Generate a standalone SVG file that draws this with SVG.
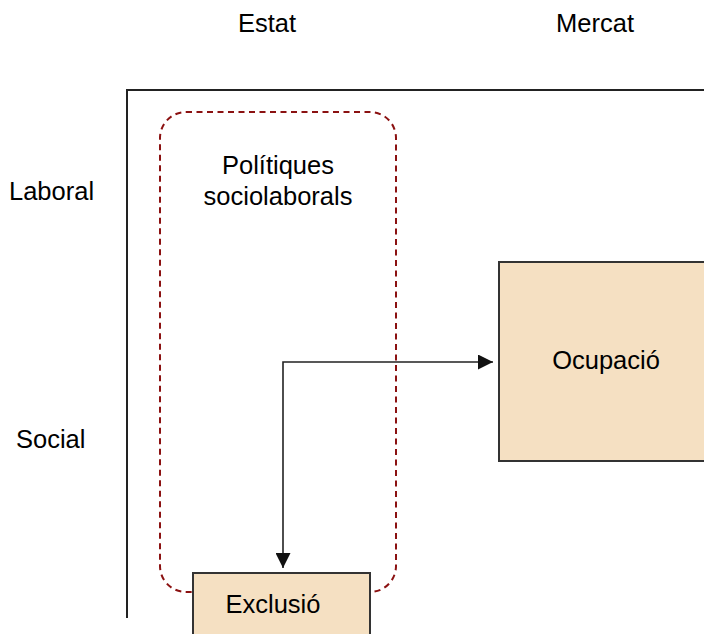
<svg xmlns="http://www.w3.org/2000/svg" width="704" height="634" viewBox="0 0 704 634">
<style>
text{font-family:"Liberation Sans",Arial,sans-serif;font-size:25.5px;fill:#000;}
.box{fill:#f5e0c2;stroke:#333;stroke-width:2;}
.axis{fill:none;stroke:#222;stroke-width:2;}
.conn{fill:none;stroke:#222;stroke-width:1.6;}
</style>
<defs>
<marker id="ah" viewBox="0 0 10 10" refX="10" refY="5" markerWidth="15" markerHeight="15" markerUnits="userSpaceOnUse" orient="auto-start-reverse">
<path d="M0,0 L10,5 L0,10 Z" fill="#111"/>
</marker>
</defs>
<g id="axes">
<path class="axis" d="M127,618 V90 H704"/>
<text x="267" y="32" text-anchor="middle">Estat</text>
<text x="595" y="32" text-anchor="middle">Mercat</text>
<text x="9" y="200">Laboral</text>
<text x="16" y="448">Social</text>
</g>
<g id="politiques">
<rect x="160" y="112" width="236" height="480" rx="26" ry="26" fill="none" stroke="#8b1111" stroke-width="2" stroke-dasharray="6,4.5"/>
<text x="278" y="174" text-anchor="middle">Polítiques</text>
<text x="278" y="205" text-anchor="middle">sociolaborals</text>
</g>
<g id="ocupacio">
<rect class="box" x="499" y="262" width="210" height="199"/>
<text x="606" y="369" text-anchor="middle">Ocupació</text>
</g>
<g id="exclusio">
<rect class="box" x="193" y="573" width="177" height="70"/>
<text x="273" y="613" text-anchor="middle">Exclusió</text>
</g>
<g id="connectors">
<path class="conn" d="M283,568 V362 H493" marker-start="url(#ah)" marker-end="url(#ah)"/>
</g>
</svg>
